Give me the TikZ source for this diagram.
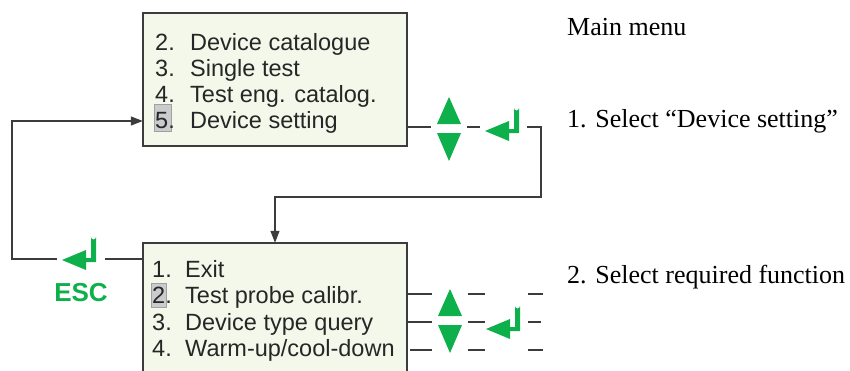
\documentclass[tikz,border=0pt]{standalone}
\usepackage{fontspec}
\setmainfont{Liberation Serif}
\newfontfamily\menufont{Liberation Sans}
\usetikzlibrary{arrows.meta}
\definecolor{keygreen}{RGB}{14,176,75}
\definecolor{linegray}{RGB}{60,60,60}
\definecolor{boxfill}{RGB}{244,248,234}
\definecolor{hlfill}{RGB}{202,203,205}
\definecolor{hlborder}{RGB}{160,160,160}
\tikzset{
  menubox/.style={draw=linegray, line width=1.3pt, fill=boxfill},
  menuline/.style={anchor=base west, inner sep=0pt, font=\menufont\fontsize{23.5}{28}\selectfont, text=black!85},
  conn/.style={draw=linegray, line width=1.2pt},
  arr/.style={conn, -{Triangle[length=12pt,width=9pt]}},
  hl/.style={fill=hlfill, draw=hlborder, line width=0.8pt},
  label/.style={anchor=base west, inner sep=0pt, font=\fontsize{26}{30}\selectfont},
  enterkey/.pic={\fill[keygreen] (0,0) -- (24,-10) -- (24,-2) -- (29,-2) -- (29,-23) arc[start angle=180,end angle=0,radius=2.5] -- (34,2) -- (24,2) -- (24,10) -- cycle;},
  updown/.pic={\fill[keygreen] (-12,-5) -- (12,-5) -- (0,-32) -- cycle;
               \fill[keygreen] (-12,4) -- (12,4) -- (0,32) -- cycle;}
}
\begin{document}
\begin{tikzpicture}[x=1pt,y=-1pt]
\clip (0,0) rectangle (850,370);
\useasboundingbox (0,0) rectangle (850,370);

% boxes
\path[menubox] (143,13) rectangle (407,146);
\node[inner sep=0pt, minimum width=264pt, minimum height=133pt] (top) at (275,79.5) {};
\path[menubox] (143,243) rectangle (407,400);
\node[inner sep=0pt, minimum width=264pt, minimum height=157pt] (bot) at (275,321.5) {};

% highlights
\path[hl] (154,104) rectangle (171,131);
\path[hl] (151,283) rectangle (166,307);

% top menu text
\node[menuline] (t2) at (155,50) {\makebox[35pt][l]{2.}Device catalogue};
\node[menuline] (t3) at (155,76) {\makebox[35pt][l]{3.}Single test};
\node[menuline] (t4) at (155,102) {\makebox[35pt][l]{4.}Test eng. catalog.};
\node[menuline] (t5) at (155,128) {\makebox[35pt][l]{5.}Device setting};

% bottom menu text
\node[menuline] (b1) at (152,277) {\makebox[33pt][l]{1.}Exit};
\node[menuline] (b2) at (152,303.5) {\makebox[33pt][l]{2.}Test probe calibr.};
\node[menuline] (b3) at (152,330) {\makebox[33pt][l]{3.}Device type query};
\node[menuline] (b4) at (152,356.5) {\makebox[33pt][l]{4.}Warm-up/cool-down};

% right labels
\node[label] (l0) at (567,35) {Main menu};
\node[label] (l1) at (567,127) {1. Select “Device setting”};
\node[label] (l2) at (567,283) {2. Select required function};

% top connector: select -> sub menu
\coordinate (ta) at (431,127);
\coordinate (tb) at (467,127);
\coordinate (tc) at (480,127);
\coordinate (td) at (527,127);
\coordinate (te) at (541,127);
\coordinate (tf) at (541,197);
\coordinate (tg) at (275,197);
\draw[conn] (top.east |- ta) -- (ta);
\draw[conn] (tb) -- (tc);
\draw[arr] (td) -- (te) -- (tf) -- (tg) -- (tg |- bot.north);
\pic at (449,129) {updown};
\pic at (485,131) {enterkey};

% ESC connector: sub menu -> main menu
\coordinate (ea) at (105,259);
\coordinate (eb) at (57,259);
\coordinate (ec) at (12,259);
\coordinate (ed) at (12,121);
\draw[conn] (bot.west |- ea) -- (ea);
\draw[arr] (eb) -- (ec) -- (ed) -- (ed -| top.west);
\pic at (62,260) {enterkey};
\node[inner sep=0pt, text=keygreen, font=\menufont\bfseries\fontsize{26}{30}\selectfont] (esc) at (81,293) {ESC};

% bottom dashed rows
\foreach \y/\s/\e in {294/407/543, 322/407/541, 350/410/543}{
  \draw[conn] (\s,\y) -- (432,\y);
  \draw[conn] (468,\y) -- (485,\y);
  \draw[conn] (528,\y) -- (\e,\y);
}
\pic at (450,321) {updown};
\pic at (486,329) {enterkey};
\end{tikzpicture}
\end{document}
